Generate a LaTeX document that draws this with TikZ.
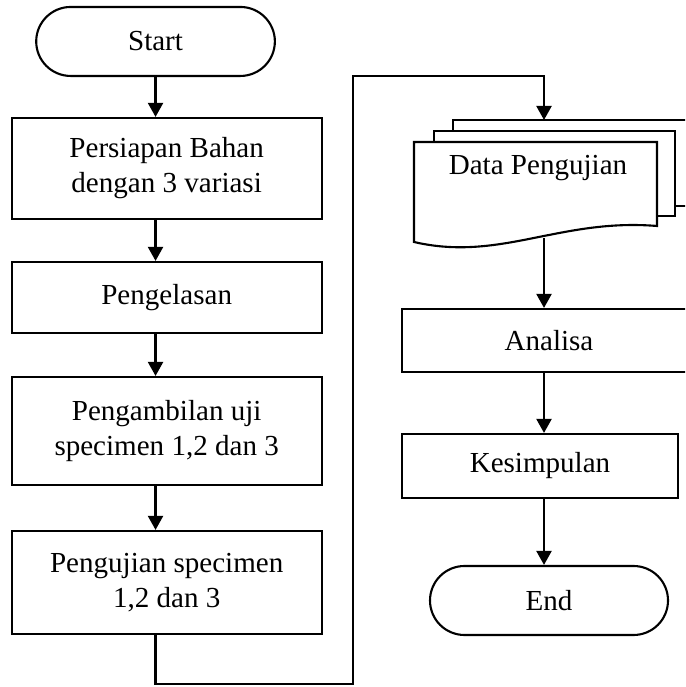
\documentclass[tikz,border=0pt]{standalone}
\usepackage{fontspec}
\setmainfont{Liberation Serif}
\usepackage{tikz}
\usetikzlibrary{arrows.meta,shapes.misc}

\begin{document}
\begin{tikzpicture}[x=1cm,y=1cm,
  font=\fontsize{12.4}{14.9}\selectfont,
  procbox/.style={draw=black, line width=0.9pt, align=center, inner sep=0pt},
  termbox/.style={draw=black, line width=0.9pt, rounded rectangle, inner sep=0pt, minimum width=3.58cm, minimum height=1.035cm},
  flowline/.style={draw=black, line width=1pt},
  flowarrow/.style={flowline, -{Triangle[length=6pt,width=6.4pt]}},
  page/.style={draw=black, line width=0.9pt, fill=white}]
  \useasboundingbox (0,0) rectangle (10.275,10.305);
  \clip (0,0) rectangle (10.275,10.305);

  % Left column
  \node[termbox] (start) at (2.333,9.683) {Start};
  \node[procbox, minimum width=4.65cm, minimum height=1.515cm] (bahan) at (2.5,7.778) {Persiapan Bahan\\dengan 3 variasi};
  \node[procbox, minimum width=4.65cm, minimum height=1.065cm] (las) at (2.5,5.843) {Pengelasan};
  \node[procbox, minimum width=4.65cm, minimum height=1.62cm] (ambil) at (2.5,3.84) {Pengambilan uji\\specimen 1,2 dan 3};
  \node[procbox, minimum width=4.65cm, minimum height=1.545cm] (uji) at (2.5,1.568) {Pengujian specimen\\1,2 dan 3};

  % Stacked documents
  \draw[page] (6.795,7.215) rectangle (10.5,8.505);
  \draw[page] (6.51,7.065) rectangle (10.125,8.34);
  \draw[page] (6.21,6.675) -- (6.21,8.175) -- (9.855,8.175) -- (9.855,6.915)
    .. controls (8.4,7.035) and (7.5,6.375) .. (6.21,6.675) -- cycle;
  \node[anchor=base] (data) at (8.07,7.68) {Data Pengujian};
  \coordinate (docin) at (8.16,8.505);
  \coordinate (docout) at (8.16,6.735);

  % Right column
  \node[procbox, minimum width=4.41cm, minimum height=0.945cm] (analisa) at (8.235,5.1975) {Analisa};
  \node[procbox, minimum width=4.14cm, minimum height=0.96cm] (kesimpulan) at (8.1,3.315) {Kesimpulan};
  \node[termbox, minimum width=3.57cm] (finish) at (8.235,1.2975) {End};

  % Left arrows
  \draw[flowarrow] (start.south) -- (start.south |- bahan.north);
  \draw[flowarrow] (bahan.south -| start.south) -- (start.south |- las.north);
  \draw[flowarrow] (las.south -| start.south) -- (start.south |- ambil.north);
  \draw[flowarrow] (ambil.south -| start.south) -- (start.south |- uji.north);

  % Link between columns
  \coordinate (lowturn) at (5.295,0.045);
  \coordinate (highturn) at (5.295,9.165);
  \draw[flowarrow] (uji.south -| start.south) |- (lowturn) -- (highturn) -| (docin);

  % Right arrows
  \draw[flowarrow] (docout) -- (docout |- analisa.north);
  \draw[flowarrow] (analisa.south -| docout) -- (docout |- kesimpulan.north);
  \draw[flowarrow] (kesimpulan.south -| docout) -- (docout |- finish.north);
\end{tikzpicture}
\end{document}
